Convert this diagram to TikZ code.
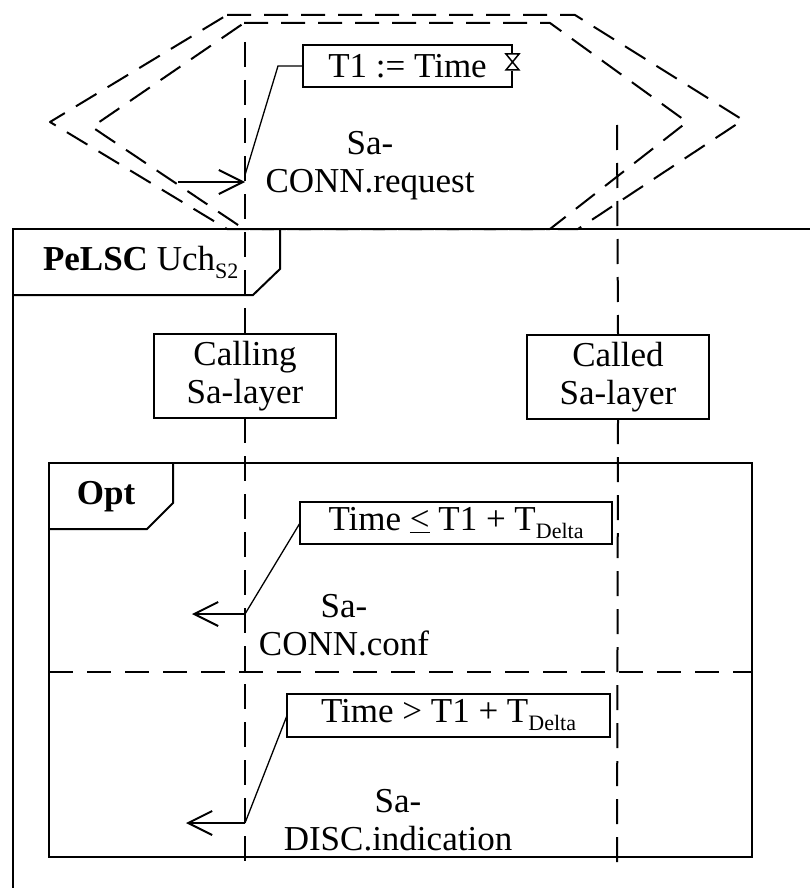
\documentclass[tikz,border=0pt]{standalone}
\usepackage{fontspec}
\setmainfont{Liberation Serif}
\usetikzlibrary{arrows.meta}
\newcommand\mysub[1]{\raisebox{-8pt}{\fontsize{22}{22}\selectfont #1}}
\begin{document}
\begin{tikzpicture}[x=1pt,y=-1pt,
  every node/.style={inner sep=0pt, outer sep=0pt},
  txt/.style={font=\fontsize{35}{38}\selectfont, align=center},
  box/.style={draw, line width=2pt, txt},
  frm/.style={line width=2pt},
  life/.style={line width=2pt, dash pattern=on 25pt off 13pt},
  hexa/.style={line width=2pt, dash pattern=on 24pt off 13pt, line join=round},
  sepline/.style={line width=2pt, dash pattern=on 24pt off 14pt},
  msg/.style={line width=2pt, -{Straight Barb[length=24pt,width=24pt,line width=2pt]}},
  lnk/.style={line width=1.3pt}
]
\useasboundingbox (0,0) rectangle (810,888);
% environment hexagons
\draw[hexa] (227,15) -- (575,15) -- (743,120) -- (578,229) -- (227,229) -- (50,122) -- cycle;
\draw[hexa] (244,23) -- (550,23) -- (687,122) -- (550,229) -- (244,229) -- (92,127) -- cycle;
% frame
\draw[frm] (13,888) -- (13,229) -- (810,229);
\draw[frm] (13,295) -- (253,295) -- (280,269) -- (280,229);
\node[font=\fontsize{35}{38}\selectfont, anchor=west] (pel) at (43,262) {\textbf{PeLSC} Uch\mysub{S2}};
% lifeline heads
\node[box, minimum width=182pt, minimum height=84pt] (caller) at (245,376) {Calling\\Sa-layer};
\node[box, minimum width=182pt, minimum height=84pt] (callee) at (618,377) {Called\\Sa-layer};
% lifelines
\coordinate (lc0) at (245,42);
\coordinate (lc1) at (245,872);
\coordinate (ld0) at (617,125);
\coordinate (ld1) at (617,872);
\draw[life] (lc0) -- (caller.north);
\draw[life] (caller.south) -- (lc1);
\draw[life] (ld0) -- (callee.north);
\draw[life] (callee.south) -- (ld1);
% opt fragment
\draw[frm] (49,463) rectangle (752,857);
\draw[frm] (49,529) -- (147,529) -- (173,503) -- (173,463);
\node[font=\fontsize{35}{38}\selectfont] (opt) at (106,497) {\textbf{Opt}};
\draw[sepline] (49,672) -- (752,672);
% timer box
\node[box, minimum width=209pt, minimum height=42pt] (t1) at (407.5,66) {T1 := Time};
\fill[white] (506,53) rectangle (521,71);
\draw[line width=1.5pt] (506,54) -- (519,54) -- (506,70) -- (519,70) -- cycle;
% request
\coordinate (s0) at (178,182);
\coordinate (a0) at (245,182);
\coordinate (k0) at (245,175);
\draw[msg] (s0) -- (a0);
\draw[lnk] (t1.west) -- ++(-25,0) -- (k0);
\node[txt] (req) at (370,166) {Sa-\\CONN.request};
% guard 1
\node[box, minimum width=312pt, minimum height=42pt] (g1) at (456,523) {Time \underline{<} T1 + T\mysub{Delta}};
\coordinate (a1) at (245,614);
\coordinate (e1) at (192,614);
\draw[msg] (a1) -- (e1);
\draw[lnk] (g1.west) -- (a1);
\node[txt] (conf) at (344,625) {Sa-\\CONN.conf};
% guard 2
\node[box, minimum width=323pt, minimum height=43pt] (g2) at (448.5,715.5) {Time > T1 + T\mysub{Delta}};
\coordinate (a2) at (245,823);
\coordinate (e2) at (186,823);
\draw[msg] (a2) -- (e2);
\draw[lnk] (g2.west) -- (a2);
\node[txt] (disc) at (398,820) {Sa-\\DISC.indication};
\end{tikzpicture}
\end{document}
